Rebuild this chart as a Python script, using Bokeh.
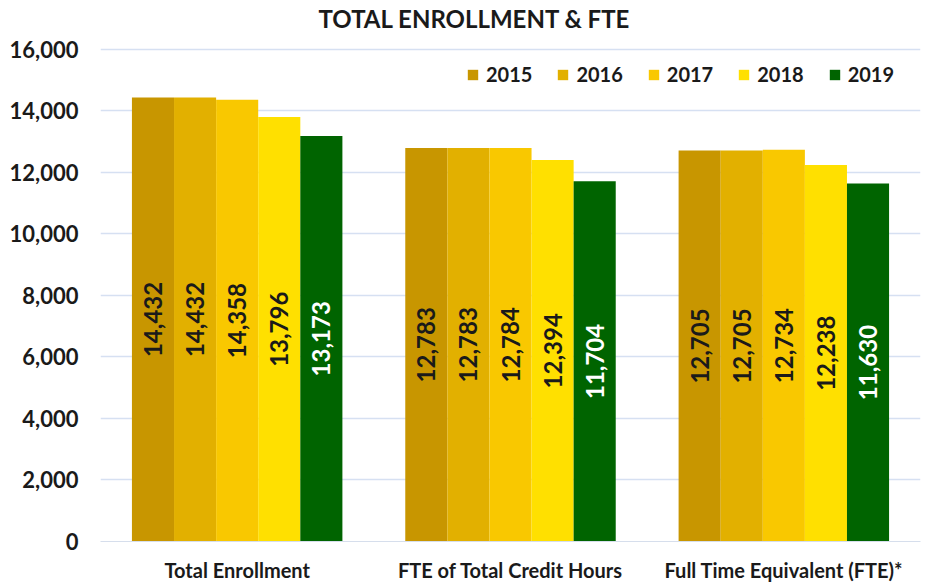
from bokeh.plotting import figure
from bokeh.models import ColumnDataSource, FactorRange, Range1d, FixedTicker, NumeralTickFormatter, Legend, LegendItem
from bokeh.transform import dodge
from bokeh.core.properties import value
from bokeh.embed import file_html
from bokeh.resources import INLINE

title_text = "TOTAL ENROLLMENT & FTE"
categories = ["Total Enrollment", "FTE of Total Credit Hours", "Full Time Equivalent (FTE)*"]
years = ["2015", "2016", "2017", "2018", "2019"]
v2015 = [14432, 12783, 12705]
v2016 = [14432, 12783, 12705]
v2017 = [14358, 12784, 12734]
v2018 = [13796, 12394, 12238]
v2019 = [13173, 11704, 11630]
series = [v2015, v2016, v2017, v2018, v2019]
colors = ["#C89600", "#E2B000", "#F9C800", "#FFE000", "#006400"]
label_colors = ["#1a1a1a", "#1a1a1a", "#1a1a1a", "#1a1a1a", "#ffffff"]
y_ticks = [0, 2000, 4000, 6000, 8000, 10000, 12000, 14000, 16000]

FONT = "Lato"

# the top of the frame leaves room for the title above the 16,000 gridline
p = figure(x_range=FactorRange(*categories), y_range=Range1d(0, 17580),
           width=921, height=584, output_backend="svg", toolbar_location=None,
           min_border_left=100, min_border_right=1, min_border_top=0, min_border_bottom=39)
p.outline_line_color = None

bw = 0.154
offsets = [-2 * bw, -bw, 0, bw, 2 * bw]
items = []
for yr, vals, col, lc, off in zip(years, series, colors, label_colors, offsets):
    src = ColumnDataSource(dict(cat=categories, val=vals, half=[v / 2 for v in vals],
                                lab=["{:,}".format(v) for v in vals]))
    r = p.vbar(x=dodge("cat", off, range=p.x_range), top="val", width=bw, source=src,
               fill_color=col, line_color=None)
    items.append(LegendItem(label=yr, renderers=[r]))
    p.text(x=dodge("cat", off, range=p.x_range), y="half", text="lab", source=src,
           angle=1.5708, text_align="center", text_baseline="middle",
           text_font=value(FONT), text_font_size="24px", text_font_style="bold",
           text_color=lc)

legend = Legend(items=items, orientation="horizontal", location=(366, 455))
legend.label_text_font = FONT
legend.label_text_font_size = "20px"
legend.label_text_font_style = "bold"
legend.label_text_color = "#1a1a1a"
legend.glyph_width = 13
legend.glyph_height = 13
legend.label_standoff = 7
legend.spacing = 24
legend.background_fill_alpha = 0
legend.border_line_color = None
legend.padding = 0
legend.margin = 0
legend.label_height = 20
p.add_layout(legend)

# chart title
p.text(x=[0.7976], y=[17000], text=[title_text], text_align="left", text_baseline="middle",
       text_font=value(FONT), text_font_size="24px", text_font_style="bold",
       text_color="#1a1a1a")

p.yaxis.ticker = FixedTicker(ticks=y_ticks)
p.yaxis.formatter = NumeralTickFormatter(format="0,0")
p.yaxis.axis_line_color = None
p.yaxis.major_tick_line_color = None
p.yaxis.minor_tick_line_color = None
p.yaxis.major_label_text_font = FONT
p.yaxis.major_label_text_font_size = "22px"
p.yaxis.major_label_text_font_style = "bold"
p.yaxis.major_label_text_color = "#1a1a1a"
p.yaxis.major_label_standoff = 16

p.xaxis.axis_line_color = "#D6DEEC"
p.xaxis.major_tick_line_color = None
p.xaxis.minor_tick_line_color = None
p.xaxis.major_label_text_font = FONT
p.xaxis.major_label_text_font_size = "20px"
p.xaxis.major_label_text_font_style = "bold"
p.xaxis.major_label_text_color = "#1a1a1a"
p.xaxis.major_label_standoff = 10

p.xgrid.grid_line_color = None
p.ygrid.grid_line_color = "#D6E0F2"
p.ygrid.grid_line_width = 1.5

open("out.html", "w").write(file_html(p, INLINE))
